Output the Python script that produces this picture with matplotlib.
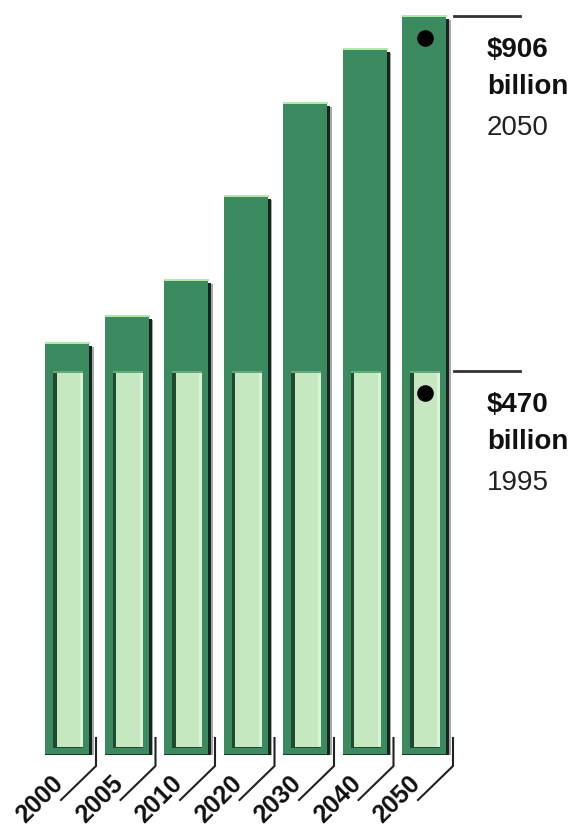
import matplotlib
matplotlib.use("Agg")
import matplotlib.pyplot as plt
from matplotlib import font_manager
from matplotlib.patches import Rectangle

# Spending level per year, in billions of dollars
years = ["2000", "2005", "2010", "2020", "2030", "2040", "2050"]
totals = [505, 538, 582, 685, 799, 865, 906]
base_level = 470        # 1995 level, drawn as the light inner block
base_year = "1995"
end_year = "2050"

DARK = "#3b8a60"
LIGHT = "#c6e8c0"
EDGE = "#1d3a28"

installed = {f.name for f in font_manager.fontManager.ttflist}
narrow = "Liberation Sans Narrow" if "Liberation Sans Narrow" in installed else "Liberation Sans"
wide = "Liberation Sans" if "Liberation Sans" in installed else "DejaVu Sans"

W, H, DPI = 579, 827, 100
fig = plt.figure(figsize=(W / DPI, H / DPI), dpi=DPI)
bottom_px = 755
ax = fig.add_axes([0, (H - bottom_px) / H, 1, bottom_px / H])
step_px = 59.5
x0_px = 67
ax.set_xlim(-x0_px / step_px, (W - x0_px) / step_px)
ax.set_ylim(0, 925)
ax.axis("off")

px = 1.0 / step_px            # one pixel in x data units
py = 925.0 / bottom_px         # one pixel in y data units
half = 22 * px


def rect(x, y, w, h, color, z, clip=True):
    ax.add_patch(Rectangle((x, y), w, h, facecolor=color, edgecolor="none",
                           zorder=z, clip_on=clip))


for i, (year, val) in enumerate(zip(years, totals)):
    left, right = i - half, i + half
    # drop shadow on the right edge
    rect(right - 1 * px, 0, 4 * px, val - 3 * py, "#16261c", 1)
    rect(right + 3 * px, 0, 1.5 * px, val - 4 * py, "#a8a8a8", 1)
    # outer dark block
    rect(left, 0, right - left, val, DARK, 2)
    rect(left, val - 1.5 * py, right - left + 1 * px, 2.5 * py, "#b2e8aa", 3)
    rect(left, 0, right - left, 1.5 * py, EDGE, 3)
    # inner light block up to the 1995 level
    il, ir = left + 8 * px, right - 6 * px
    rect(il, 7 * py, ir - il, base_level - 7 * py, LIGHT, 3)
    rect(il, 7 * py, 3.5 * px, base_level - 7 * py, "#1f4a30", 4)
    rect(ir - 3 * px, 7 * py, 3 * px, base_level - 7 * py, "#daf3d4", 4)
    rect(il, base_level - 1.5 * py, ir - il, 1.5 * py, "#6aa57e", 4)
    rect(il, 7 * py, ir - il, 1.5 * py, "#1f4a30", 4)

    # bracket-style tick under each bar
    tx = right + 7 * px
    ax.plot([tx, tx, right - 28 * px], [17 * py, -11 * py, -45 * py],
            color="#222222", lw=1.5, clip_on=False, zorder=5,
            solid_joinstyle="miter")
    ax.text(i - 27 * px, -44 * py, year, rotation=45, ha="center", va="center",
            rotation_mode="anchor", fontsize=18, fontweight="bold",
            family=narrow, color="#111111", clip_on=False)

# reference markers on the last bar
last = len(years) - 1
line_x0 = last + half + 8 * px
line_x1 = last + half + 74 * px
text_x = last + 63 * px
for level, amount, label_year in [(totals[-1], totals[-1], end_year),
                                  (base_level, base_level, base_year)]:
    ax.plot([line_x0, line_x1], [level, level], color="#333333", lw=2,
            clip_on=False, zorder=5)
    ax.scatter([last + 1 * px], [level - 22 * py], s=120, color="black",
               zorder=6, clip_on=False)
    ax.text(text_x, level - 41 * py, f"${amount}", ha="left", va="baseline",
            fontsize=20, fontweight="bold", family=wide, color="#111111")
    ax.text(text_x, level - 78 * py, "billion", ha="left", va="baseline",
            fontsize=20, fontweight="bold", family=wide, color="#111111")
    ax.text(text_x, level - 119 * py, label_year, ha="left", va="baseline",
            fontsize=20, family=narrow, color="#222222")

fig.savefig("out.png", dpi=DPI, facecolor="white")
